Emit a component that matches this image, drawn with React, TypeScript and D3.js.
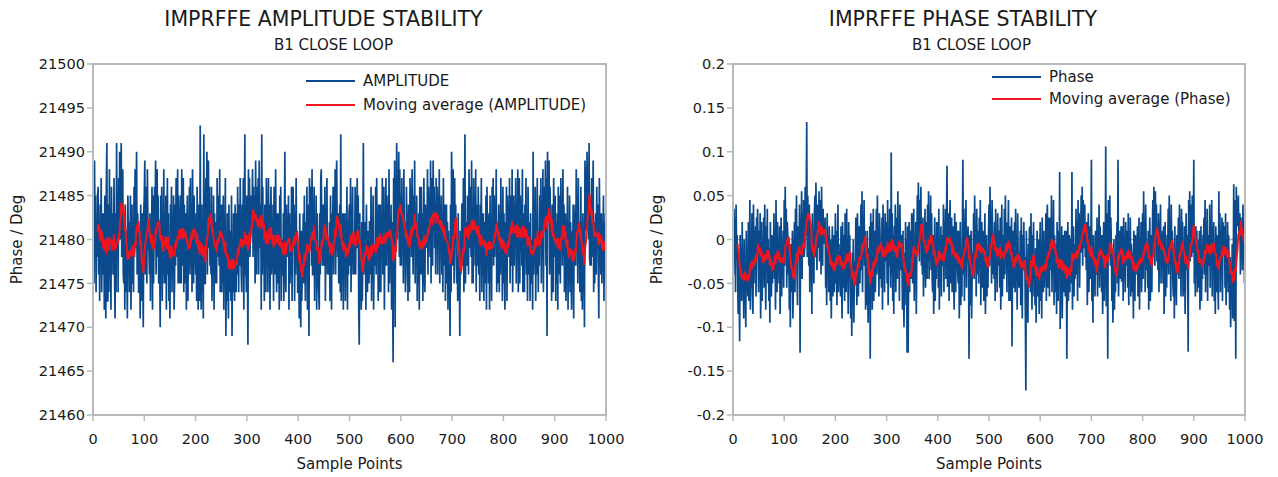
import React from "react";
import * as d3 from "d3";

const SAMPLE_TICKS = [0, 100, 200, 300, 400, 500, 600, 700, 800, 900, 1000];
const AMPLITUDE_TICKS = [21460, 21465, 21470, 21475, 21480, 21485, 21490, 21495, 21500];
const PHASE_TICKS = [-0.2, -0.15, -0.1, -0.05, 0, 0.05, 0.1, 0.15, 0.2];
const PHASE_TICK_LABELS = ["-0.2", "-0.15", "-0.1", "-0.05", "0", "0.05", "0.1", "0.15", "0.2"];
const MOVING_AVERAGE_PERIOD = 10;

const AMPLITUDE = [
21477,21484,21475,21489,21480,21485,21474,21482,21478,21485,
21486,21476,21481,21473,21484,21479,21487,21474,21483,21477,
21476,21483,21472,21485,21478,21471,21486,21491,21473,21473,
21484,21474,21488,21477,21481,21472,21486,21479,21483,21476,
21477,21487,21476,21471,21483,21474,21491,21479,21484,21474,
21487,21481,21490,21480,21485,21491,21478,21484,21488,21476,
21475,21482,21472,21484,21474,21481,21477,21471,21485,21479,
21482,21474,21478,21485,21472,21479,21484,21475,21477,21474,
21486,21478,21488,21479,21485,21490,21476,21483,21481,21474,
21474,21480,21471,21484,21476,21473,21483,21477,21470,21483,
21485,21489,21476,21486,21481,21475,21488,21482,21479,21479,
21476,21483,21473,21482,21478,21486,21472,21485,21475,21480,
21486,21479,21489,21476,21483,21488,21478,21485,21475,21481,
21478,21470,21485,21479,21486,21473,21483,21476,21488,21475,
21482,21475,21485,21472,21480,21487,21476,21483,21473,21476,
21471,21484,21477,21486,21474,21481,21478,21485,21472,21475,
21484,21477,21487,21480,21478,21488,21475,21485,21481,21475,
21478,21485,21475,21488,21482,21477,21487,21474,21484,21480,
21475,21483,21472,21482,21485,21473,21480,21478,21486,21476,
21487,21477,21484,21474,21488,21481,21475,21485,21480,21480,
21476,21483,21473,21486,21479,21472,21484,21477,21473,21493,
21475,21472,21484,21474,21479,21471,21492,21477,21475,21475,
21487,21480,21490,21476,21484,21489,21479,21486,21477,21482,
21476,21486,21473,21482,21478,21485,21472,21483,21475,21480,
21482,21475,21487,21478,21485,21480,21477,21488,21474,21484,
21479,21474,21484,21475,21485,21472,21481,21477,21487,21469,
21478,21473,21483,21476,21471,21484,21474,21481,21477,21473,
21485,21469,21478,21474,21483,21476,21473,21484,21477,21474,
21483,21476,21486,21479,21474,21484,21477,21487,21479,21476,
21474,21484,21477,21487,21472,21481,21492,21476,21477,21474,
21485,21477,21468,21488,21484,21487,21478,21482,21485,21481,
21483,21488,21478,21486,21479,21485,21475,21489,21481,21476,
21486,21480,21487,21476,21489,21483,21479,21484,21472,21492,
21476,21486,21477,21481,21473,21484,21480,21474,21487,21481,
21483,21474,21487,21479,21484,21472,21481,21486,21476,21479,
21477,21484,21473,21486,21480,21476,21488,21479,21474,21483,
21482,21475,21483,21472,21485,21478,21486,21473,21480,21476,
21476,21483,21473,21481,21490,21477,21474,21484,21479,21479,
21478,21485,21472,21483,21475,21480,21476,21486,21473,21482,
21486,21479,21484,21473,21483,21476,21487,21477,21481,21474,
21474,21478,21471,21483,21476,21470,21481,21473,21477,21480,
21483,21475,21485,21478,21473,21482,21476,21486,21472,21480,
21484,21469,21487,21483,21479,21486,21477,21488,21476,21476,
21478,21486,21473,21482,21476,21485,21472,21483,21479,21476,
21474,21472,21483,21476,21487,21488,21481,21477,21484,21477,
21484,21477,21486,21473,21481,21479,21487,21476,21480,21477,
21476,21482,21473,21485,21478,21472,21483,21479,21486,21476,
21486,21479,21488,21476,21485,21489,21481,21478,21483,21475,
21477,21484,21474,21492,21473,21481,21476,21483,21472,21483,
21476,21483,21473,21480,21478,21486,21472,21482,21476,21483,
21484,21477,21487,21474,21481,21479,21486,21476,21480,21476,
21478,21486,21476,21485,21479,21487,21479,21485,21472,21468,
21483,21475,21476,21472,21482,21473,21478,21491,21476,21479,
21477,21482,21472,21484,21475,21474,21481,21478,21475,21482,
21482,21476,21486,21473,21480,21478,21485,21472,21479,21479,
21477,21486,21476,21487,21479,21483,21473,21484,21474,21481,
21484,21474,21483,21479,21487,21476,21480,21486,21472,21480,
21478,21487,21477,21485,21480,21484,21474,21488,21475,21482,
21477,21484,21472,21482,21475,21466,21487,21478,21489,21470,
21487,21483,21491,21480,21485,21481,21490,21478,21488,21477,
21485,21477,21487,21480,21484,21475,21488,21478,21482,21474,
21476,21486,21479,21483,21473,21484,21480,21474,21487,21479,
21486,21478,21488,21482,21476,21485,21479,21489,21475,21482,
21478,21485,21473,21482,21475,21483,21472,21486,21476,21480,
21486,21476,21483,21473,21481,21487,21477,21474,21484,21479,
21483,21479,21488,21476,21486,21481,21485,21478,21489,21475,
21487,21482,21477,21489,21483,21486,21479,21484,21476,21487,
21481,21486,21476,21485,21479,21488,21475,21483,21482,21485,
21476,21483,21474,21487,21480,21477,21484,21473,21481,21484,
21475,21482,21472,21481,21477,21478,21469,21484,21474,21490,
21485,21477,21488,21481,21475,21487,21480,21484,21478,21475,
21478,21473,21483,21475,21477,21469,21481,21476,21478,21484,
21484,21477,21487,21474,21480,21492,21475,21482,21478,21477,
21485,21481,21476,21488,21479,21486,21483,21478,21489,21475,
21482,21475,21487,21480,21485,21477,21488,21474,21484,21478,
21477,21486,21476,21481,21473,21484,21479,21487,21474,21483,
21476,21483,21473,21482,21478,21475,21485,21472,21486,21480,
21482,21475,21483,21472,21485,21476,21480,21473,21486,21478,
21487,21477,21485,21478,21484,21480,21488,21474,21482,21475,
21479,21484,21474,21483,21476,21487,21477,21481,21473,21486,
21475,21483,21476,21472,21482,21478,21486,21473,21485,21480,
21484,21478,21487,21475,21482,21485,21477,21488,21474,21480,
21485,21477,21484,21480,21487,21475,21482,21478,21488,21474,
21478,21487,21475,21485,21480,21484,21477,21488,21474,21482,
21483,21474,21484,21479,21487,21476,21480,21473,21486,21479,
21476,21482,21473,21483,21475,21480,21478,21472,21490,21476,
21484,21477,21486,21473,21481,21476,21487,21480,21474,21481,
21477,21485,21480,21487,21475,21484,21478,21488,21474,21482,
21486,21482,21489,21477,21487,21469,21490,21484,21483,21489,
21476,21486,21477,21481,21473,21484,21480,21474,21487,21481,
21478,21485,21473,21482,21475,21483,21472,21486,21476,21480,
21485,21475,21487,21480,21482,21477,21488,21478,21484,21474,
21476,21483,21473,21480,21478,21486,21472,21482,21475,21485,
21474,21482,21475,21472,21481,21477,21484,21471,21482,21482,
21484,21477,21488,21480,21485,21475,21487,21478,21482,21474,
21476,21486,21473,21482,21472,21483,21475,21480,21470,21489,
21485,21488,21481,21490,21483,21487,21480,21491,21478,21477,
21484,21477,21487,21478,21480,21489,21474,21482,21475,21481,
21483,21476,21486,21479,21484,21477,21471,21487,21481,21480,
21476,21483,21475,21480,21478,21485,21473,21482,21475,21483,
];

const PHASE = [
0.010,-0.040,0.035,-0.020,0.025,-0.060,0.040,-0.015,0.005,-0.030,
-0.085,-0.020,-0.060,-0.116,0.005,-0.045,-0.030,-0.070,0.020,-0.050,
-0.030,-0.090,0.000,-0.075,-0.040,-0.100,0.010,-0.060,-0.025,-0.065,
0.020,-0.070,-0.035,0.045,-0.080,-0.010,-0.055,0.030,-0.060,-0.085,
0.040,-0.050,0.010,-0.030,0.015,-0.065,0.025,-0.020,0.035,-0.010,
-0.060,0.010,-0.045,0.030,-0.090,-0.015,0.020,-0.070,-0.005,-0.045,
0.025,-0.055,0.040,-0.030,-0.080,0.015,-0.020,0.035,-0.050,0.000,
-0.070,-0.010,-0.095,0.020,-0.040,-0.065,0.005,-0.050,-0.025,-0.020,
0.030,-0.045,0.010,-0.080,0.045,-0.025,-0.060,0.020,-0.035,-0.010,
-0.050,0.015,-0.085,-0.020,0.025,-0.065,-0.005,-0.040,0.010,-0.055,
0.045,-0.030,0.060,-0.010,0.035,-0.055,0.020,0.005,-0.040,0.000,
-0.080,-0.020,-0.100,-0.005,-0.060,-0.035,0.010,-0.090,-0.045,-0.025,
0.020,-0.060,0.035,-0.025,0.050,-0.040,-0.075,0.015,-0.005,-0.015,
0.040,-0.129,0.025,-0.030,0.055,-0.045,0.030,-0.020,0.045,-0.020,
-0.010,0.060,0.005,0.045,0.134,-0.020,0.050,0.015,-0.030,0.040,
-0.060,0.020,-0.045,0.010,-0.085,0.030,-0.025,-0.005,-0.050,0.030,
0.050,-0.020,0.065,0.005,-0.035,0.040,0.025,-0.010,0.055,-0.025,
-0.015,0.045,-0.040,0.060,0.010,-0.030,0.035,-0.005,0.020,0.000,
0.025,-0.055,-0.010,-0.075,0.030,-0.035,0.005,-0.060,0.015,-0.020,
-0.070,0.000,-0.090,-0.025,0.015,-0.065,-0.040,0.005,-0.060,-0.020,
0.030,-0.050,0.010,-0.075,-0.020,0.040,-0.060,-0.005,-0.045,-0.025,
-0.065,0.015,-0.040,-0.090,0.020,-0.030,-0.055,0.005,-0.070,0.030,
0.010,-0.060,0.035,-0.045,-0.015,-0.085,0.020,-0.030,0.005,-0.055,
-0.090,-0.030,-0.110,-0.015,-0.060,0.000,-0.095,-0.045,-0.025,-0.030,
0.025,-0.040,-0.075,0.030,-0.010,-0.065,0.015,-0.035,-0.050,0.005,
0.040,-0.035,0.055,-0.060,0.020,-0.015,0.045,-0.030,0.010,-0.080,
-0.020,-0.075,0.010,-0.055,-0.095,-0.010,-0.065,0.015,-0.136,0.030,
-0.050,0.020,-0.080,-0.015,0.035,-0.070,-0.035,0.010,-0.060,-0.025,
0.035,-0.040,0.050,-0.025,0.015,-0.065,0.030,0.010,-0.045,-0.015,
-0.055,0.025,-0.080,0.040,-0.020,0.005,-0.060,0.030,-0.010,-0.025,
0.020,-0.050,0.045,-0.075,0.010,-0.030,0.035,-0.015,-0.055,0.099,
-0.040,0.030,-0.070,0.005,-0.085,0.015,-0.025,0.040,-0.060,-0.010,
0.025,-0.045,0.055,-0.020,0.010,-0.070,0.040,-0.005,-0.035,0.005,
-0.020,-0.080,0.010,-0.065,-0.100,-0.015,-0.055,0.020,-0.075,0.000,
-0.129,0.015,-0.129,-0.040,0.020,-0.060,0.010,-0.025,-0.045,0.030,
0.025,-0.050,-0.015,0.035,-0.070,-0.005,-0.040,0.020,-0.085,-0.015,
0.050,-0.010,0.065,0.020,-0.025,0.045,0.005,0.060,-0.030,0.000,
-0.040,0.025,-0.065,0.010,-0.030,0.035,-0.055,-0.005,0.020,-0.045,
0.040,-0.025,0.055,-0.045,0.015,-0.010,0.050,-0.035,0.030,-0.045,
-0.060,0.005,-0.085,-0.020,0.025,-0.070,-0.010,-0.045,0.020,-0.030,
0.020,-0.055,0.035,-0.080,-0.010,-0.040,0.015,-0.065,0.005,-0.025,
-0.030,0.040,-0.060,0.020,-0.015,0.035,-0.045,0.025,0.084,-0.054,
-0.035,0.030,-0.070,0.010,0.045,-0.050,-0.020,0.025,-0.060,0.005,
0.015,-0.045,-0.080,0.030,-0.015,-0.060,0.020,-0.035,0.010,-0.040,
-0.050,0.010,-0.090,-0.030,0.020,-0.075,-0.015,-0.065,0.005,0.091,
-0.040,0.035,-0.070,0.020,-0.015,0.045,-0.055,0.010,-0.025,0.015,
-0.020,-0.136,0.005,-0.075,-0.030,0.010,-0.090,-0.045,-0.015,-0.025,
0.030,-0.045,0.050,-0.020,0.015,-0.065,0.035,-0.010,-0.040,0.010,
-0.050,0.025,-0.030,0.045,-0.075,0.000,0.020,-0.055,0.010,-0.010,
-0.070,-0.015,0.030,-0.085,-0.040,0.005,-0.065,-0.020,-0.055,0.005,
0.040,-0.030,0.060,-0.015,0.025,-0.050,0.045,0.010,-0.040,-0.015,
-0.045,0.020,-0.070,0.035,-0.025,-0.005,-0.060,0.030,-0.010,-0.030,
0.010,-0.055,0.025,-0.080,-0.015,0.040,-0.065,-0.020,0.005,-0.045,
0.035,-0.040,0.050,-0.025,0.020,-0.060,0.015,-0.010,0.045,-0.070,
-0.030,0.015,-0.070,-0.010,0.025,-0.122,-0.020,0.010,-0.055,-0.013,
0.020,-0.060,0.035,-0.045,-0.005,-0.080,0.030,-0.025,-0.055,-0.015,
-0.055,0.010,-0.075,0.025,-0.040,-0.090,0.005,-0.035,0.020,-0.035,
-0.020,-0.085,-0.172,0.010,-0.060,-0.035,-0.095,-0.005,-0.050,0.012,
0.015,-0.060,0.030,-0.045,-0.080,0.005,-0.030,0.020,-0.065,-0.040,
-0.075,-0.010,-0.095,-0.030,0.010,-0.065,-0.050,0.000,-0.085,-0.020,
0.020,-0.070,-0.015,-0.090,0.025,-0.040,-0.060,0.010,-0.055,-0.025,
-0.045,0.030,-0.070,0.015,0.040,-0.055,-0.010,0.025,-0.065,0.015,
0.025,-0.035,0.050,-0.060,0.010,-0.020,0.045,-0.075,0.005,-0.025,
-0.060,-0.005,-0.085,0.020,-0.045,-0.070,0.010,-0.040,0.077,-0.102,
-0.020,-0.075,0.015,-0.090,-0.040,0.005,-0.060,-0.030,0.010,-0.065,
-0.055,0.010,-0.136,-0.025,0.020,-0.070,-0.040,0.005,-0.060,0.001,
-0.010,-0.050,0.077,-0.080,-0.020,0.015,-0.065,-0.005,-0.045,-0.017,
0.035,-0.040,0.020,-0.070,0.045,-0.015,0.030,-0.055,0.010,0.000,
0.050,-0.015,0.060,-0.030,0.045,0.025,-0.010,0.040,-0.020,0.005,
-0.035,0.020,-0.075,-0.010,0.030,-0.060,-0.025,0.015,-0.045,-0.015,
0.091,-0.070,-0.030,-0.095,0.005,-0.050,-0.020,-0.065,0.010,-0.026,
-0.040,0.025,-0.065,0.010,-0.020,0.040,-0.055,0.015,-0.035,0.005,
-0.060,0.005,-0.085,-0.025,0.020,-0.070,-0.035,-0.050,0.106,-0.076,
0.030,-0.020,-0.136,0.045,0.010,-0.015,0.050,-0.030,0.025,-0.009,
-0.070,-0.015,-0.095,-0.040,0.000,-0.080,-0.025,-0.060,0.005,-0.040,
0.020,-0.050,0.091,-0.065,-0.030,0.010,-0.045,-0.020,0.015,-0.046,
-0.045,0.015,-0.070,0.025,-0.035,-0.005,-0.060,0.020,-0.030,-0.015,
0.010,-0.055,0.030,-0.075,-0.010,-0.040,0.025,-0.065,-0.005,-0.015,
-0.060,-0.015,-0.090,0.010,-0.050,-0.070,0.005,-0.040,-0.025,-0.015,
0.015,-0.065,-0.030,0.025,-0.080,-0.010,-0.045,0.020,-0.060,-0.020,
0.030,-0.045,0.055,-0.020,0.015,-0.060,0.040,-0.010,-0.035,-0.010,
-0.055,0.010,-0.080,-0.020,0.025,-0.070,-0.035,0.005,-0.060,0.005,
0.045,-0.020,0.060,0.010,-0.030,0.055,-0.005,0.040,-0.025,-0.020,
-0.035,0.030,-0.060,0.020,-0.015,0.040,-0.050,0.005,-0.025,0.010,
-0.050,0.015,-0.085,-0.025,0.020,-0.065,-0.010,-0.055,0.005,-0.020,
0.035,-0.040,0.050,-0.015,0.020,-0.070,0.040,-0.025,0.010,-0.045,
-0.065,-0.010,-0.090,0.015,-0.055,-0.030,-0.075,0.005,-0.040,-0.005,
0.025,-0.045,0.040,-0.020,0.010,-0.065,0.035,-0.015,0.020,-0.065,
-0.020,-0.060,0.015,-0.085,-0.040,0.030,-0.035,0.005,-0.020,-0.128,
0.045,-0.015,0.055,-0.025,0.040,0.010,-0.020,0.050,-0.005,-0.015,
0.091,-0.050,-0.020,-0.065,0.015,-0.035,0.010,-0.060,-0.005,-0.001,
-0.055,0.010,-0.080,-0.030,0.015,-0.070,-0.020,-0.045,0.005,0.000,
0.025,-0.040,0.045,-0.060,0.010,-0.025,0.035,-0.070,0.005,-0.025,
-0.030,0.040,-0.055,0.020,-0.010,0.045,-0.065,0.015,-0.020,0.020,
-0.070,-0.010,-0.085,0.015,-0.045,-0.060,0.005,-0.035,-0.080,0.055,
-0.025,0.030,-0.060,0.010,-0.040,0.025,-0.070,0.020,-0.015,-0.005,
0.015,-0.055,0.030,-0.075,-0.010,-0.040,0.020,-0.060,0.005,-0.030,
-0.080,-0.020,-0.100,-0.035,-0.060,-0.005,-0.090,-0.050,0.063,-0.093,
0.045,-0.005,-0.136,0.060,0.025,0.040,0.015,0.050,0.000,0.006,
0.030,-0.040,0.025,-0.020,0.010,-0.035,0.040,-0.015,0.005,-0.050,
];

const FONT = "'DejaVu Sans', Verdana, sans-serif";
const AXIS_GRAY = "#b9b9b9";
const BLUE = "#0a4a8c";
const RED = "#f0141e";
const TEXT = "#1a1a1a";

function movingAverage(values: number[], period: number): (number | null)[] {
  return values.map((_, i) =>
    i < period - 1 ? null : (d3.mean(values.slice(i - period + 1, i + 1)) as number)
  );
}

type PanelProps = {
  id: string;
  left: number;
  right: number;
  top: number;
  bottom: number;
  yDomain: [number, number];
  yTicks: number[];
  yTickLabels: string[];
  values: number[];
  title: string;
  subtitle: string;
  titleX: number;
  subtitleX: number;
  seriesName: string;
  maName: string;
  legendX: number;
  legendY: number;
  legendGap: number;
  zeroLine: boolean;
};

function Panel(p: PanelProps) {
  const x = d3.scaleLinear().domain([0, 1000]).range([p.left, p.right]);
  const y = d3.scaleLinear().domain(p.yDomain).range([p.bottom, p.top]);
  const line = d3
    .line<number>()
    .x((_, i) => x(i))
    .y((d) => y(d));
  const ma = movingAverage(p.values, MOVING_AVERAGE_PERIOD);
  const maLine = d3
    .line<number | null>()
    .defined((d) => d != null)
    .x((_, i) => x(i))
    .y((d) => y(d as number));
  const midX = (p.left + p.right) / 2;
  const midY = (p.top + p.bottom) / 2;
  return (
    <g>
      <defs>
        <clipPath id={p.id}>
          <rect x={p.left} y={p.top} width={p.right - p.left} height={p.bottom - p.top} />
        </clipPath>
      </defs>
      <text x={p.titleX} y={25.5} textAnchor="middle" fontSize={20.5} fill={TEXT} fontFamily={FONT}>
        {p.title}
      </text>
      <text x={p.subtitleX} y={49.5} textAnchor="middle" fontSize={15} fill={TEXT} fontFamily={FONT}>
        {p.subtitle}
      </text>
      {p.zeroLine && (
        <line x1={p.left} x2={p.right} y1={y(0)} y2={y(0)} stroke="#a8a8a8" strokeWidth={1.5} />
      )}
      <g clipPath={`url(#${p.id})`}>
        <path d={line(p.values) || ""} fill="none" stroke={BLUE} strokeWidth={1.7} strokeLinejoin="miter" />
        <path d={maLine(ma) || ""} fill="none" stroke={RED} strokeWidth={2} />
      </g>
      <rect
        x={p.left}
        y={p.top}
        width={p.right - p.left}
        height={p.bottom - p.top}
        fill="none"
        stroke={AXIS_GRAY}
        strokeWidth={2}
      />
      {p.yTicks.map((t, i) => (
        <g key={"y" + i}>
          <line x1={p.left - 6} x2={p.left} y1={y(t)} y2={y(t)} stroke={AXIS_GRAY} strokeWidth={1.5} />
          <text
            x={p.left - 8}
            y={y(t)}
            dy="0.36em"
            textAnchor="end"
            fontSize={14.5}
            fill={TEXT}
            fontFamily={FONT}
          >
            {p.yTickLabels[i]}
          </text>
        </g>
      ))}
      {SAMPLE_TICKS.map((t) => (
        <g key={"x" + t}>
          <line x1={x(t)} x2={x(t)} y1={p.bottom} y2={p.bottom + 6} stroke={AXIS_GRAY} strokeWidth={1.5} />
          <text x={x(t)} y={444} textAnchor="middle" fontSize={14.5} fill={TEXT} fontFamily={FONT}>
            {t}
          </text>
        </g>
      ))}
      <text x={midX} y={469} textAnchor="middle" fontSize={15} fill={TEXT} fontFamily={FONT}>
        Sample Points
      </text>
      <text
        transform={`translate(${p.left - 71},${midY}) rotate(-90)`}
        textAnchor="middle"
        fontSize={15}
        fill={TEXT}
        fontFamily={FONT}
      >
        Phase / Deg
      </text>
      <line x1={p.legendX} x2={p.legendX + 49} y1={p.legendY} y2={p.legendY} stroke={BLUE} strokeWidth={2} />
      <text x={p.legendX + 57} y={p.legendY} dy="0.36em" fontSize={15} fill={TEXT} fontFamily={FONT}>
        {p.seriesName}
      </text>
      <line
        x1={p.legendX}
        x2={p.legendX + 49}
        y1={p.legendY + p.legendGap}
        y2={p.legendY + p.legendGap}
        stroke={RED}
        strokeWidth={2}
      />
      <text
        x={p.legendX + 57}
        y={p.legendY + p.legendGap}
        dy="0.36em"
        fontSize={15}
        fill={TEXT}
        fontFamily={FONT}
      >
        {p.maName}
      </text>
    </g>
  );
}

export default function App() {
  return (
    <svg
      width={1278}
      height={477}
      viewBox="0 0 1278 477"
      style={{ position: "absolute", left: 0, top: 0, background: "#fff" }}
    >
      <rect x={0} y={0} width={1278} height={477} fill="#fff" />
      <Panel
        id="clipA"
        left={93}
        right={606}
        top={64}
        bottom={415}
        yDomain={[21460, 21500]}
        yTicks={AMPLITUDE_TICKS}
        yTickLabels={AMPLITUDE_TICKS.map(String)}
        values={AMPLITUDE}
        title="IMPRFFE AMPLITUDE STABILITY"
        subtitle="B1 CLOSE LOOP"
        titleX={323.5}
        subtitleX={333.5}
        seriesName="AMPLITUDE"
        maName="Moving average (AMPLITUDE)"
        legendX={306}
        legendY={81}
        legendGap={24}
        zeroLine={false}
      />
      <Panel
        id="clipP"
        left={733}
        right={1245}
        top={64}
        bottom={415}
        yDomain={[-0.2, 0.2]}
        yTicks={PHASE_TICKS}
        yTickLabels={PHASE_TICK_LABELS}
        values={PHASE}
        title="IMPRFFE PHASE STABILITY"
        subtitle="B1 CLOSE LOOP"
        titleX={963}
        subtitleX={971.5}
        seriesName="Phase"
        maName="Moving average (Phase)"
        legendX={992}
        legendY={77}
        legendGap={22}
        zeroLine={true}
      />
    </svg>
  );
}
